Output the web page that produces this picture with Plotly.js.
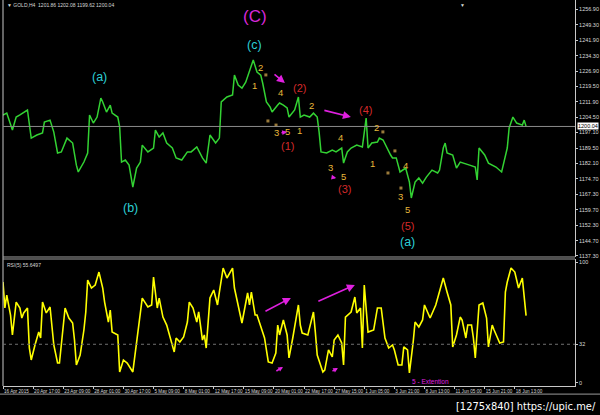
<!DOCTYPE html>
<html><head><meta charset="utf-8">
<script src="https://cdn.plot.ly/plotly-3.0.1.min.js"></script>
<style>html,body{margin:0;padding:0;background:#000;overflow:hidden}#chart{width:600px;height:415px}</style>
</head><body><div id="chart"></div>
<script>
// ---- data (x = H4 bar index) ----
const priceBars = [0,2,5,7,9,13,15,18,21,22,25,27,29,31,34,37,39,40,43,45,46,48,50,52,53,55,57,58,61,62,63,65,67,69,71,73,74,77,80,81,83,85,87,90,92,95,98,100,103,106,108,110,113,115,116,119,122,123,125,127,129,130,132,133,135,137,138,140,142,143,146,147,149,151,152,155,157,158,160,163,165,167,168,169,172,175,177,180,181,183,185,188,191,193,194,196,199,200,202,204,206,207,209,211,214,216,217,219,221,223,225,228,231,232,234,235,236,239,241,243,245,248,251,252,253,256,258,260,262,265,267,268,269,271,273,276,277,278];
const priceVals = [1205.6,1206.5,1198.3,1204.6,1205.6,1208.0,1194.4,1195.9,1196.9,1202.2,1203.1,1197.3,1187.2,1187.7,1194.4,1192.0,1181.3,1178.0,1182.8,1187.2,1205.6,1201.7,1204.6,1213.8,1211.9,1207.0,1210.4,1206.5,1204.6,1199.8,1182.8,1183.8,1181.3,1170.7,1179.9,1182.8,1191.0,1187.7,1189.6,1198.3,1194.9,1196.9,1192.0,1189.6,1184.8,1183.8,1187.7,1187.7,1190.1,1184.8,1182.3,1195.9,1192.0,1194.4,1211.9,1214.3,1215.3,1224.9,1220.1,1218.6,1221.5,1224.0,1228.8,1232.2,1226.4,1224.9,1221.1,1211.9,1209.4,1207.0,1210.4,1211.4,1210.4,1209.0,1204.6,1208.0,1214.3,1204.6,1205.6,1204.6,1206.5,1204.6,1197.3,1187.7,1187.2,1188.6,1187.7,1189.6,1182.3,1187.7,1189.6,1191.0,1190.1,1204.1,1189.6,1192.0,1192.5,1194.4,1193.5,1189.6,1186.2,1184.8,1184.8,1178.0,1179.9,1173.1,1165.4,1173.1,1175.1,1172.6,1175.5,1178.9,1177.5,1178.9,1189.6,1192.0,1187.2,1186.2,1179.9,1182.8,1182.3,1181.3,1180.4,1174.1,1189.6,1186.2,1182.3,1181.3,1180.4,1178.0,1186.2,1189.6,1199.3,1204.6,1201.7,1200.7,1203.1,1200.04];

const rsiBars = [0,1,2,4,5,7,9,10,11,13,14,15,17,19,20,21,23,25,27,29,30,31,33,35,37,38,39,41,43,44,45,47,49,51,53,54,56,57,58,61,62,64,66,69,71,73,74,77,79,80,82,83,85,87,89,91,92,94,96,98,99,101,103,104,106,107,108,110,112,114,115,117,119,122,123,125,127,130,131,132,134,135,138,139,141,143,145,146,147,149,151,152,154,157,158,159,162,163,165,166,167,170,171,173,175,176,178,180,181,182,183,185,187,188,190,191,192,194,197,199,201,203,205,207,208,210,212,213,215,216,218,219,221,223,224,227,230,232,234,236,238,239,241,243,244,246,247,249,250,251,253,255,257,258,260,261,264,266,267,268,270,272,274,276,277,278];
const rsiVals = [83.5,62.0,72.7,56.2,39.7,66.9,62.0,53.7,57.9,62.0,28.9,19.0,31.4,42.1,37.2,66.9,57.9,62.8,31.4,16.5,16.5,33.1,62.0,53.7,49.6,35.5,14.9,23.1,43.8,58.7,85.1,78.5,81.0,91.7,78.5,66.9,50.4,60.3,42.1,39.7,9.1,19.0,16.5,9.1,33.9,54.5,70.2,62.8,64.5,87.6,62.0,70.2,54.5,47.9,37.2,25.6,37.2,33.9,38.0,50.4,66.9,62.0,50.4,58.7,35.5,39.7,28.9,70.2,76.9,64.5,75.2,95.0,86.8,95.0,78.5,64.5,49.6,74.4,64.5,75.2,56.2,56.2,42.1,37.2,17.4,16.5,24.8,47.9,39.7,52.1,39.7,20.7,37.2,64.5,47.9,41.3,39.7,45.5,58.7,42.1,23.1,9.1,10.7,27.3,21.5,35.5,39.7,33.1,14.9,54.5,56.2,58.7,71.1,57.9,62.0,28.9,81.0,42.1,43.8,62.0,62.0,37.2,28.9,31.4,27.3,14.9,14.9,29.8,27.3,8.3,33.9,50.4,46.3,52.1,64.5,53.7,64.5,75.2,86.8,75.2,64.5,29.8,39.7,54.5,52.1,37.2,47.9,47.9,37.2,20.7,64.5,66.1,53.7,29.8,47.9,43.8,33.1,33.9,75.2,83.5,95.0,91.7,78.5,86.8,70.2,55.6497];

const dateTickBars = [0,16,32,48,64,80,96,112,128,144,160,176,192,208,224,240,256,272];
const dateTickLabels = ["16 Apr 2015","20 Apr 17:00","23 Apr 09:00","28 Apr 01:00","30 Apr 17:00","5 May 09:00","8 May 01:00","12 May 17:00","15 May 09:00","20 May 01:00","22 May 17:00","27 May 15:00","1 Jun 05:00","3 Jun 21:00","8 Jun 13:00","11 Jun 05:00","15 Jun 21:00","18 Jun 13:00"];
const priceTicks = [1256.90,1249.30,1241.90,1234.30,1226.90,1219.50,1211.90,1204.50,1197.10,1189.50,1182.10,1174.70,1167.30,1159.70,1152.30,1144.70,1137.30];
const rsiTicks = [100,32,0];
const rsiLevel = 32;
const ohlcHeader = ["GOLD,H4", "1201.86", "1202.08", "1199.62", "1200.04"];
const rsiName = "RSI(5)";

// wave labels: [text, bar, price]
const degreeLabels = [["(C)",133.9,1253.1]];
const waveABC = [["(c)",133.9,1239.5],["(a)",51.5,1224.0],["(b)",68.0,1160.5],["(a)",215.2,1144.1]];
const waveRed = [["(1)",151.4,1190.6],["(2)",157.8,1218.7],["(3)",181.7,1169.7],["(4)",192.9,1208.0],["(5)",215.2,1151.8]];
const waveMinor = [["2",137.1,1228.8],["1",133.9,1220.1],["4",147.7,1216.3],["2",163.7,1210.4],["3",145.1,1196.9],["5",151.4,1197.4],["1",157.8,1198.3],["4",179.6,1194.9],["2",198.7,1199.3],["1",196.6,1182.3],["3",174.1,1180.4],["5",181.2,1175.6],["4",214.1,1180.9],["3",211.5,1165.9],["5",215.2,1159.6]];
const markBars = [139.7,140.8,145.1,201.9,204.6,208.3,211.5];
const markPrices = [1225.0,1202.7,1200.7,1197.4,1177.5,1188.2,1170.2];
// arrows: [tailBar, tailVal, headBar, headVal, panel, headSize]
const arrows = [[143.5,1225.9,149.8,1221.1,"y",1],[170.0,1208.0,184.9,1204.6,"y",1],[147.2,1196.9,150.9,1197.4,"y",0.6],[174.1,1175.6,177.1,1175.1,"y",0.6],
  [138.7,58.7,153.0,70.3,"y2",1],[144.5,9.1,148.8,13.2,"y2",0.6],[166.8,67.0,187.0,81.0,"y2",1],[174.3,9.1,178.0,12.4,"y2",0.6]];
const extNote = ["5 - Extention",227.4,1.6];

const lastPrice = priceVals[priceVals.length-1];
const lastRsi = rsiVals[rsiVals.length-1];

const FONT = "Liberation Sans, Arial, sans-serif";
const AX = "#c8c8c8";

const traces = [
  {x:priceBars, y:priceVals, type:"scatter", mode:"lines", line:{color:"#33d233", width:1.5}, xaxis:"x", yaxis:"y", hoverinfo:"skip"},
  {x:markBars, y:markPrices, type:"scatter", mode:"markers", marker:{symbol:"square", size:3, color:"#9a7a3a"}, xaxis:"x", yaxis:"y", hoverinfo:"skip"},
  {x:rsiBars, y:rsiVals, type:"scatter", mode:"lines", line:{color:"#ffff00", width:1.6}, xaxis:"x", yaxis:"y2", hoverinfo:"skip"}
];

const ann = [];
function lab(list, color, size, yref){
  list.forEach(l => ann.push({text:l[0], x:l[1], y:l[2], xref:"x", yref:yref||"y", showarrow:false, font:{family:FONT, size:size, color:color}}));
}
lab(degreeLabels, "#d828d8", 17);
lab(waveABC, "#2ccfd6", 12.5);
lab(waveRed, "#d42a2a", 11);
lab(waveMinor, "#e8b83a", 9.5);
arrows.forEach(a => ann.push({x:a[2], y:a[3], ax:a[0], ay:a[1], xref:"x", yref:a[4], axref:"x", ayref:a[4], text:"", showarrow:true, arrowhead:2, arrowsize:a[5], arrowwidth:1.6, standoff:0, startstandoff:0, arrowcolor:"#e020e0"}));
ann.push({text:extNote[0], x:extNote[1], y:extNote[2], xref:"x", yref:"y2", showarrow:false, font:{family:FONT, size:6.5, color:"#e020e0"}});
ann.push({text:"▼ " + ohlcHeader[0] + "  " + ohlcHeader.slice(1).join(" "), xref:"paper", yref:"paper", x:0, y:1, xanchor:"left", yanchor:"top", xshift:2, yshift:0, showarrow:false, font:{family:FONT, size:5, color:"#d8d8d8"}});
ann.push({text:"▼", xref:"paper", yref:"paper", x:0.8027, y:1, xanchor:"center", yanchor:"top", showarrow:false, font:{family:FONT, size:5, color:"#d8d8d8"}});
ann.push({text:rsiName + " " + lastRsi.toFixed(4), xref:"paper", yref:"paper", x:0, y:0.329, xanchor:"left", yanchor:"top", xshift:2, yshift:-1, showarrow:false, font:{family:FONT, size:5, color:"#d8d8d8"}});
ann.push({text:lastPrice.toFixed(2), xref:"paper", yref:"y", x:1, y:lastPrice, xanchor:"left", yanchor:"middle", xshift:2, showarrow:false, bgcolor:"#ffffff", borderpad:0, font:{family:FONT, size:5.5, color:"#000"}});
ann.push({text:"[1275x840] https://upic.me/", xref:"paper", yref:"paper", x:1.04, y:-0.03, xanchor:"right", yanchor:"top", showarrow:false, font:{family:"DejaVu Sans Condensed, DejaVu Sans, sans-serif", size:11, color:"#ffffff"}});

const shapes = [
  {type:"line", xref:"paper", yref:"paper", x0:0, x1:0, y0:0, y1:1, line:{color:AX, width:1}},
  {type:"line", xref:"paper", yref:"paper", x0:0, x1:1, y0:0.3342, y1:0.3342, line:{color:"#a0a0a0", width:1}},
  {type:"line", xref:"paper", yref:"paper", x0:0, x1:1, y0:0.329, y1:0.329, line:{color:"#a0a0a0", width:1}},
  {type:"line", xref:"paper", yref:"y", x0:0, x1:1, y0:lastPrice, y1:lastPrice, line:{color:"#8a8a8a", width:1}},
  {type:"line", xref:"paper", yref:"y2", x0:0, x1:1, y0:rsiLevel, y1:rsiLevel, line:{color:"#707070", width:1, dash:"dot"}},
  {type:"line", xref:"paper", yref:"paper", x0:-0.01, x1:1.05, y0:-0.021, y1:-0.021, line:{color:"#9a9a9a", width:1}}
];

const layout = {
  width:600, height:415,
  margin:{l:3, r:25, t:0, b:29, pad:0},
  paper_bgcolor:"#000", plot_bgcolor:"#000",
  showlegend:false, hovermode:false,
  font:{family:FONT, color:AX},
  xaxis:{range:[0,304], tickvals:dateTickBars, ticktext:dateTickLabels, tickangle:0, ticks:"outside", ticklen:2, tickcolor:AX,
    ticklabelposition:"outside right", tickfont:{size:4.6, color:"#d8d8d8", family:FONT}, showgrid:false, zeroline:false,
    showline:true, linecolor:AX, linewidth:1, anchor:"y2", fixedrange:true},
  yaxis:{domain:[0.3342,1], range:[1136.8,1261.3], side:"right", tickvals:priceTicks, ticktext:priceTicks.map(v=>v.toFixed(2)),
    ticks:"outside", ticklen:2, tickcolor:AX, tickfont:{size:5.5, color:"#d8d8d8", family:FONT}, showgrid:false, zeroline:false,
    showline:true, linecolor:AX, linewidth:1, anchor:"x", fixedrange:true},
  yaxis2:{domain:[0,0.329], range:[-2.5,102.5], side:"right", tickvals:rsiTicks, ticktext:rsiTicks.map(String),
    ticks:"outside", ticklen:2, tickcolor:AX, tickfont:{size:5.5, color:"#d8d8d8", family:FONT}, showgrid:false, zeroline:false,
    showline:true, linecolor:AX, linewidth:1, anchor:"x", fixedrange:true},
  annotations:ann, shapes:shapes
};
Plotly.newPlot("chart", traces, layout, {displayModeBar:false, staticPlot:true});
</script></body></html>
